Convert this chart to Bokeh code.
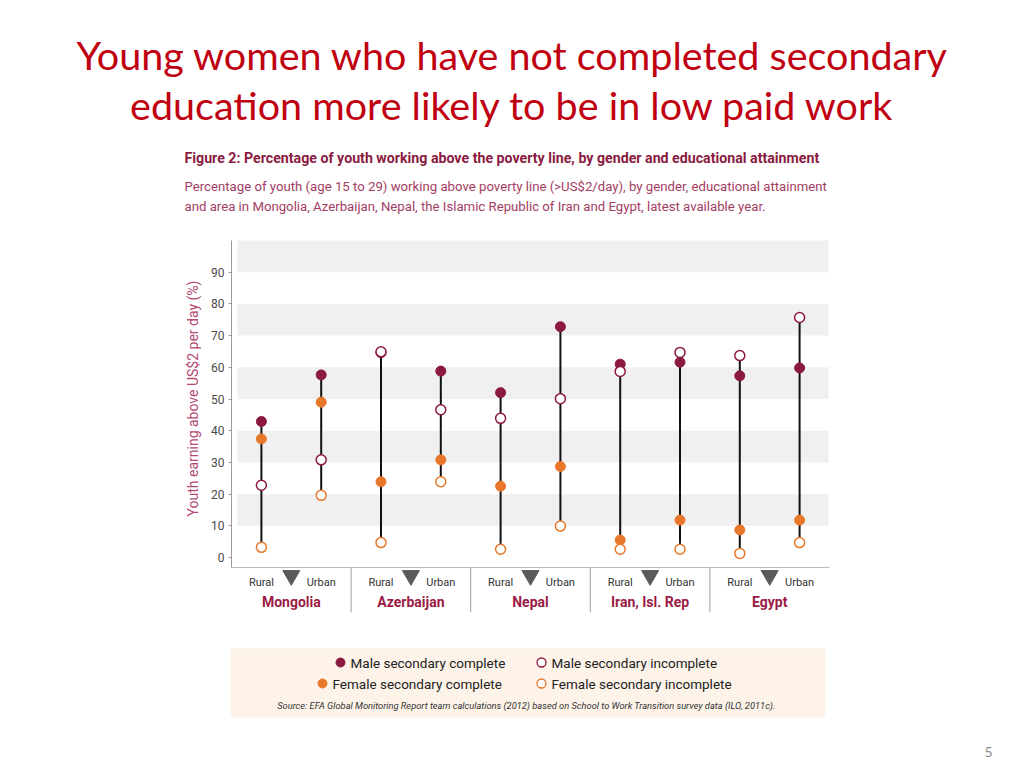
from bokeh.plotting import figure
from bokeh.models import Range1d, FixedTicker
from bokeh.embed import file_html
from bokeh.resources import INLINE
from bokeh.core.properties import value
import numpy as np
import math

# ---------------- data ----------------
countries = ["Mongolia", "Azerbaijan", "Nepal", "Iran, Isl. Rep", "Egypt"]
areas = ["Rural", "Urban"]
# order: Mongolia Rural, Mongolia Urban, Azerbaijan Rural, ...
male_complete = [42.9, 57.6, 64.6, 58.8, 52.0, 72.8, 61.0, 61.6, 57.3, 59.8]
male_incomplete = [22.8, 30.8, 64.9, 46.6, 43.9, 50.1, 58.7, 64.7, 63.7, 75.7]
female_complete = [37.4, 49.0, 23.9, 30.8, 22.5, 28.7, 5.5, 11.8, 8.7, 11.8]
female_incomplete = [3.2, 19.6, 4.7, 23.9, 2.6, 9.9, 2.6, 2.6, 1.3, 4.7]
y_ticks = [0, 10, 20, 30, 40, 50, 60, 70, 80, 90]
band_centers = [15, 35, 55, 75, 95]
legend_labels = ["Male secondary complete", "Male secondary incomplete",
                 "Female secondary complete", "Female secondary incomplete"]

title_lines = ["Young women who have not completed secondary",
               "education more likely to be in low paid work"]
fig_title = "Figure 2: Percentage of youth working above the poverty line, by gender and educational attainment"
fig_sub = ["Percentage of youth (age 15 to 29) working above poverty line (>US$2/day), by gender, educational attainment",
           "and area in Mongolia, Azerbaijan, Nepal, the Islamic Republic of Iran and Egypt, latest available year."]
y_label = "Youth earning above US$2 per day (%)"
source_text = "Source: EFA Global Monitoring Report team calculations  (2012) based on School to Work Transition survey data (ILO, 2011c)."
page_number = "5"

# ---------------- styles / geometry ----------------
CRIMSON = "#8C1A3E"
ORANGE = "#E8772A"
FONT = "Roboto"

W, H = 1016, 760
LB = 60                           # left border reserved for the axis panel
FL, FR = 231, 829                 # chart x extent (page px) for x = 0..5
Y0PX, YPX = 557.0, 3.17           # page px of y = 0, px per unit
XPX = (FR - FL) / 5.0

def xv(px):
    return (px - FL) / XPX

def yv(py):
    return (Y0PX - py) / YPX

p = figure(width=W, height=H, output_backend="svg", toolbar_location=None,
           x_range=Range1d(xv(LB), xv(W)), y_range=Range1d(yv(H), yv(0)),
           x_axis_location=None, y_axis_location="left",
           min_border_left=LB, min_border_right=0, min_border_top=0,
           min_border_bottom=0)
p.grid.visible = False
p.outline_line_color = None
p.background_fill_color = "white"
p.border_fill_color = "white"

# ---------- chart ----------
p.hbar(y=band_centers, height=10, left=xv(237), right=xv(828),
       fill_color="#F0F0F0", line_color=None)

xs = [i + (0.25 if a == "Rural" else 0.75) for i in range(len(countries)) for a in areas]
allv = np.array([male_complete, male_incomplete, female_complete, female_incomplete])
p.segment(x0=xs, y0=allv.min(axis=0), x1=xs, y1=allv.max(axis=0),
          line_color="#111111", line_width=2)

p.scatter(xs, female_complete, size=10, fill_color=ORANGE, line_color=ORANGE)
p.scatter(xs, female_incomplete, size=10, fill_color="white", line_color=ORANGE, line_width=1.5)
p.scatter(xs, male_complete, size=10, fill_color=CRIMSON, line_color=CRIMSON)
p.scatter(xs, male_incomplete, size=10, fill_color="white", line_color=CRIMSON, line_width=1.5)

ax = p.yaxis[0]
ax.fixed_location = 0
ax.bounds = (yv(567), 100)
ax.ticker = FixedTicker(ticks=y_ticks)
ax.axis_line_color = "#9A9A9A"
ax.major_tick_line_color = "#9A9A9A"
ax.major_tick_out = 3
ax.major_tick_in = 0
ax.minor_tick_line_color = None
ax.major_label_text_font = FONT
ax.major_label_text_font_size = "12px"
ax.major_label_text_color = "#4A4A4A"
ax.major_label_standoff = 4

p.text(x=[xv(192)], y=[yv(398)], text=[y_label], angle=math.pi / 2,
       text_align="center", text_baseline="middle", text_font=value(FONT),
       text_font_size="14px", text_color="#B24A72")

# ---------- category labels ----------
p.segment(x0=[0], y0=[yv(567)], x1=[5], y1=[yv(567)], line_color="#BBBBBB", line_width=1)
p.segment(x0=[1, 2, 3, 4], y0=yv(567), x1=[1, 2, 3, 4], y1=yv(612),
          line_color="#A0A0A0", line_width=1)
centers = [i + 0.5 for i in range(len(countries))]
p.scatter(centers, [yv(575)] * len(centers), marker="inverted_triangle", size=17,
          fill_color="#5A5A5A", line_color="#5A5A5A")
p.text(x=xs, y=yv(582), text=[a for c in countries for a in areas],
       text_align="center", text_baseline="middle", text_font=value(FONT),
       text_font_size="11px", text_color="#333333")
p.text(x=centers, y=yv(601), text=countries, text_align="center", text_baseline="middle",
       text_font=value(FONT), text_font_size="14px", text_font_style="bold",
       text_color="#9B1B45")

# ---------- legend panel ----------
p.quad(left=xv(230), right=xv(825), bottom=yv(717), top=yv(648),
       fill_color="#FDF3E9", line_color=None)
lx = [xv(340), xv(541), xv(322), xv(541)]
ly = [yv(662), yv(662), yv(683), yv(683)]
p.scatter(lx[0:1], ly[0:1], size=9, fill_color=CRIMSON, line_color=CRIMSON)
p.scatter(lx[1:2], ly[1:2], size=9, fill_color="white", line_color=CRIMSON, line_width=1.3)
p.scatter(lx[2:3], ly[2:3], size=9, fill_color=ORANGE, line_color=ORANGE)
p.scatter(lx[3:4], ly[3:4], size=9, fill_color="white", line_color=ORANGE, line_width=1.3)
p.text(x=[v + xv(241) - xv(231) for v in lx], y=ly, text=legend_labels,
       text_align="left", text_baseline="middle", text_font=value(FONT),
       text_font_size="13.5px", text_color="#222222")
p.text(x=[xv(527)], y=[yv(705)], text=[source_text], text_align="center",
       text_baseline="middle", text_font=value(FONT), text_font_size="9.3px",
       text_font_style="italic", text_color="#333333")

# ---------- page texts ----------
p.text(x=[xv(512), xv(512)], y=[yv(54), yv(104)], text=title_lines, text_align="center",
       text_baseline="middle", text_font=value("Lato"), text_font_size="39.5px",
       text_color="#C00010")
p.text(x=[xv(184)], y=[yv(157)], text=[fig_title], text_align="left", text_baseline="middle",
       text_font=value(FONT), text_font_size="14.2px", text_font_style="bold",
       text_color="#8A1B3F")
p.text(x=[xv(184), xv(184)], y=[yv(186), yv(206)], text=fig_sub, text_align="left",
       text_baseline="middle", text_font=value(FONT), text_font_size="13.2px",
       text_color="#A33D63")
p.text(x=[xv(988)], y=[yv(751)], text=[page_number], text_align="center",
       text_baseline="middle", text_font=value("Lato"), text_font_size="14px",
       text_color="#8C8C8C")

open("out.html", "w").write(file_html(p, INLINE))
